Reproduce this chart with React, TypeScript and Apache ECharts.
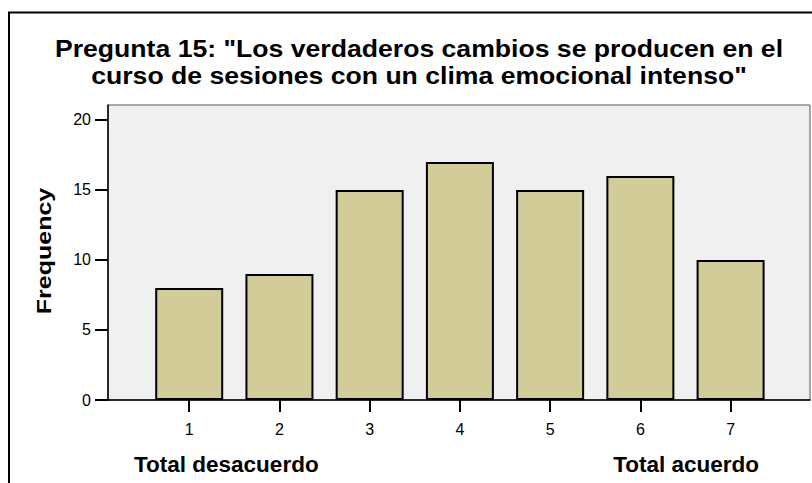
import React, { useEffect, useRef } from "react";
import * as echarts from "echarts";

const categories = [1, 2, 3, 4, 5, 6, 7];
const frequencies = [8, 9, 15, 17, 15, 16, 10];
const yTicks = [0, 5, 10, 15, 20];
const titleLines = [
  'Pregunta 15: "Los verdaderos cambios se producen en el',
  'curso de sesiones con un clima emocional intenso"',
];
const leftEndLabel = "Total desacuerdo";
const rightEndLabel = "Total acuerdo";
const yName = "Frequency";

const FONT = "'Liberation Sans', Arial, sans-serif";

export default function App() {
  const ref = useRef<HTMLDivElement>(null);
  useEffect(() => {
    document.body.style.margin = "0";
    const chart = echarts.init(ref.current!, null, { renderer: "svg" });
    const titleGraphics = titleLines.map((line, i) => ({
      type: "text",
      x: 419,
      y: 49 + i * 27,
      scaleX: 1.157,
      style: {
        text: line,
        fontFamily: FONT,
        fontWeight: "bold",
        fontSize: 23,
        fill: "#000",
        align: "center",
        verticalAlign: "middle",
      },
    }));
    chart.setOption({
      animation: false,
      backgroundColor: "#ffffff",
      grid: {
        left: 108,
        top: 105,
        right: 2,
        bottom: 83,
        show: true,
        backgroundColor: "#f0f0f0",
        borderColor: "#555555",
        borderWidth: 1,
      },
      xAxis: {
        type: "value",
        min: 0.1,
        max: 7.88,
        splitLine: { show: false },
        axisLine: { show: true, onZero: false, lineStyle: { color: "#000", width: 1.5 } },
        axisTick: {
          show: true,
          customValues: categories,
          length: 12,
          lineStyle: { color: "#000", width: 2 },
        },
        axisLabel: {
          customValues: categories,
          margin: 21,
          fontFamily: FONT,
          fontSize: 16,
          color: "#000",
        },
      },
      yAxis: {
        type: "value",
        min: 0,
        max: 21.07,
        splitLine: { show: false },
        axisLine: { show: true, lineStyle: { color: "#000", width: 1.5 } },
        axisTick: {
          show: true,
          customValues: yTicks,
          length: 13,
          lineStyle: { color: "#000", width: 2 },
        },
        axisLabel: {
          customValues: yTicks,
          margin: 17,
          fontFamily: FONT,
          fontSize: 16,
          color: "#000",
        },
      },
      series: [
        {
          type: "bar",
          data: categories.map((c, i) => [c, frequencies[i]]),
          barWidth: 68,
          itemStyle: {
            color: "#d2cd98",
            borderColor: "#000",
            borderWidth: 2,
          },
        },
      ],
      graphic: [
        {
          type: "rect",
          shape: { x: 9, y: 12.5, width: 900, height: 600 },
          style: { fill: "none", stroke: "#000", lineWidth: 2 },
          silent: true,
        },
        ...titleGraphics,
        {
          type: "text",
          x: 44,
          y: 251,
          rotation: Math.PI / 2,
          scaleX: 1.25,
          style: {
            text: yName,
            fontFamily: FONT,
            fontWeight: "bold",
            fontSize: 20,
            fill: "#000",
            align: "center",
            verticalAlign: "middle",
          },
        },
        {
          type: "text",
          x: 134,
          y: 464,
          style: {
            text: leftEndLabel,
            fontFamily: FONT,
            fontWeight: "bold",
            fontSize: 22.5,
            fill: "#000",
            align: "left",
            verticalAlign: "middle",
          },
        },
        {
          type: "text",
          x: 759,
          y: 464,
          style: {
            text: rightEndLabel,
            fontFamily: FONT,
            fontWeight: "bold",
            fontSize: 22.5,
            fill: "#000",
            align: "right",
            verticalAlign: "middle",
          },
        },
      ],
    });
    return () => chart.dispose();
  }, []);
  return <div ref={ref} style={{ width: 812, height: 483 }} />;
}
